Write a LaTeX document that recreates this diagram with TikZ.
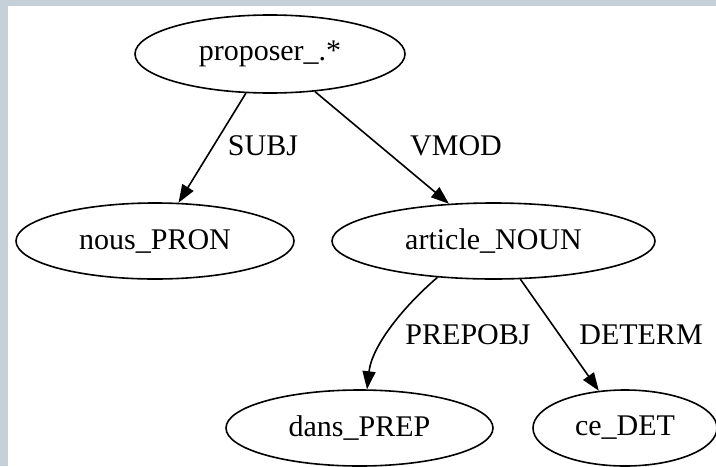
\documentclass[tikz,border=0pt]{standalone}
\usepackage{fontspec}
\setmainfont{Liberation Serif}
\usetikzlibrary{arrows.meta,shapes.geometric}
\definecolor{framegray}{RGB}{197,208,216}
\begin{document}
\begin{tikzpicture}[x=0.5pt,y=-0.5pt,
	word/.style={draw,ellipse,line width=0.8pt,inner sep=0pt,minimum height=38pt,font=\fontsize{15}{17}\selectfont},
	rel/.style={inner sep=0pt,font=\fontsize{15}{17}\selectfont},
	dep/.style={line width=0.8pt,-{Triangle[length=9pt,width=6.5pt]}}]
	\useasboundingbox (0,0) rectangle (716,466);
	\fill[framegray] (0,0) rectangle (716,466);
	\fill[white] (8,6) rectangle (716,466);
	% words
	\node[word,minimum width=135pt,minimum height=39pt] (proposer) at (270,54) {proposer\_.*};
	\node[word,minimum width=139pt] (nous) at (155,241) {nous\_PRON};
	\node[word,minimum width=161.5pt] (article) at (493.5,241) {article\_NOUN};
	\node[word,minimum width=133.5pt] (dans) at (359.5,428) {dans\_PREP};
	\node[word,minimum width=92pt] (ce) at (625,428) {ce\_DET};
	% dependencies
	\draw[dep] (proposer) -- (nous);
	\draw[dep] (proposer) -- (article);
	\draw[dep] (article.213) .. controls (405,305) and (372,345) .. (dans.79);
	\draw[dep] (article) -- (ce);
	\node[rel] (subj) at (263,146) {SUBJ};
	\node[rel] (vmod) at (456,146) {VMOD};
	\node[rel] (prepobj) at (468,335) {PREPOBJ};
	\node[rel] (determ) at (641,335) {DETERM};
\end{tikzpicture}
\end{document}
